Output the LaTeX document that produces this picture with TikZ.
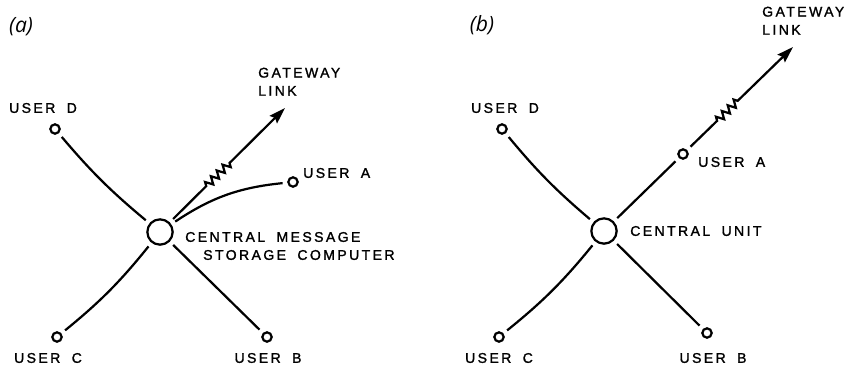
\documentclass[tikz,border=0pt]{standalone}
\usepackage{fontspec}
\usepackage{tikz}
\usetikzlibrary{arrows.meta,calc,decorations.pathmorphing}
\newfontfamily\lettering[LetterSpace=17,FakeBold=1.4,WordSpace=1.8]{Liberation Sans}
\newfontfamily\tagfont{Open Sans}

\tikzset{
  hub/.style={draw, circle, line width=1.9pt, minimum size=0.76cm, inner sep=0pt},
  term/.style={draw, circle, line width=1.9pt, minimum size=0.28cm, inner sep=0pt},
  wire/.style={line width=1.9pt, shorten <=4pt, shorten >=4pt},
  gate/.style={line width=1.9pt, shorten <=4pt, -{Stealth[length=14pt,width=9pt,inset=2pt]}},
  zig/.style={decoration={zigzag, segment length=7pt, amplitude=3.2pt}},
  lbl/.style={font=\lettering\fontsize{12}{15.5}\selectfont, inner sep=0pt},
  tag/.style={font=\tagfont\itshape\fontsize{18}{20}\selectfont, inner sep=0pt}
}

\begin{document}
\begin{tikzpicture}[x=0.03cm, y=-0.03cm]
\useasboundingbox (0,0) rectangle (844,368);

% (a) message storage
\node[tag] (taga) at (21,27) {(a)};
\node[hub]  (ca) at (160,232) {};
\node[term] (da) at (55,129) {};
\node[term] (aa) at (293,182) {};
\node[term] (cca) at (57,337) {};
\node[term] (ba) at (267,337) {};
\coordinate (ga) at (285,108);
\coordinate (za1) at ($(ca)!0.37!(ga)$);
\coordinate (za2) at ($(ca)!0.57!(ga)$);

\draw[wire] (da) to[bend right=5] (ca);
\draw[wire] (cca) to[bend right=6] (ca);
\draw[wire] (ca) -- (ba);
\draw[wire] (ca) to[bend left=14] (aa);
\draw[gate] (ca) -- (za1) decorate[zig]{-- (za2)} -- (ga);

\node[lbl] (lda) at (43,108) {USER D};
\node[lbl, anchor=west] (lga) at (258,83) {\begin{tabular}{@{}l@{}}GATEWAY\\LINK\end{tabular}};
\node[lbl, anchor=west] (laa) at (303,173) {USER A};
\node[lbl, anchor=west] (lca1) at (185,237) {CENTRAL MESSAGE};
\node[lbl, anchor=west] (lca2) at (203,255) {STORAGE COMPUTER};
\node[lbl] (lcca) at (48,358) {USER C};
\node[lbl] (lba) at (268,358) {USER B};

% (b) central unit
\node[tag] (tagb) at (482,25) {(b)};
\node[hub]  (cb) at (604,231) {};
\node[term] (db) at (502,129) {};
\node[term] (ab) at (683,154) {};
\node[term] (ccb) at (499,337) {};
\node[term] (bb) at (707,333) {};
\coordinate (gb) at (793,47);
\coordinate (zb1) at ($(ab)!0.31!(gb)$);
\coordinate (zb2) at ($(ab)!0.52!(gb)$);

\draw[wire] (db) to[bend right=5] (cb);
\draw[wire] (ccb) to[bend right=6] (cb);
\draw[wire] (cb) -- (bb);
\draw[wire] (cb) -- (ab);
\draw[gate] (ab) -- (zb1) decorate[zig]{-- (zb2)} -- (gb);

\node[lbl] (ldb) at (505,108) {USER D};
\node[lbl, anchor=west] (lgb) at (762,22) {\begin{tabular}{@{}l@{}}GATEWAY\\LINK\end{tabular}};
\node[lbl, anchor=west] (lab) at (698,162) {USER A};
\node[lbl, anchor=west] (lcb) at (630,231) {CENTRAL UNIT};
\node[lbl] (lccb) at (499,358) {USER C};
\node[lbl] (lbb) at (713,358) {USER B};
\end{tikzpicture}
\end{document}
